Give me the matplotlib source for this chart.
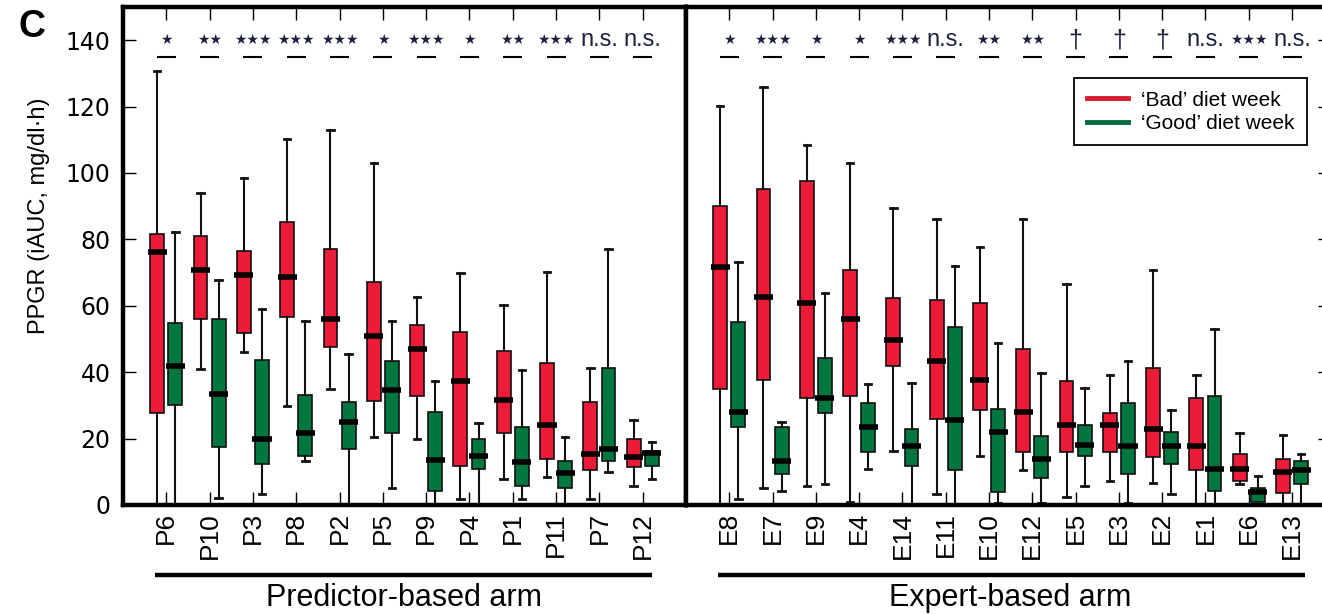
import matplotlib.pyplot as plt
from matplotlib.lines import Line2D
import matplotlib.transforms as mtransforms

# ---- data ----
# each box: (whislo, q1, med, q3, whishi)
p_labels = ['P6', 'P10', 'P3', 'P8', 'P2', 'P5', 'P9', 'P4', 'P1', 'P11', 'P7', 'P12']
p_bad = [
    (0, 27.7, 76.1, 81.6, 130.6),
    (41.0, 56.1, 70.7, 81.1, 93.9),
    (46.0, 51.7, 69.2, 76.6, 98.4),
    (29.7, 56.6, 68.7, 85.3, 110.1),
    (34.8, 47.5, 56.1, 77.1, 113.1),
    (20.5, 31.2, 50.9, 67.3, 103.1),
    (19.9, 32.7, 47.0, 54.1, 62.7),
    (1.7, 11.8, 37.3, 52.1, 69.8),
    (7.8, 21.7, 31.7, 46.3, 60.1),
    (8.3, 13.8, 24.0, 42.8, 70.3),
    (1.7, 10.4, 15.4, 31.1, 41.3),
    (5.7, 11.3, 14.4, 19.8, 25.6),
]
p_good = [
    (0, 30.2, 41.8, 54.7, 82.1),
    (2.2, 17.4, 33.5, 56.1, 67.8),
    (3.2, 12.4, 20.0, 43.8, 59.1),
    (13.4, 14.9, 21.7, 33.2, 55.4),
    (0, 16.9, 24.9, 31.1, 45.5),
    (5.2, 21.7, 34.6, 43.3, 55.3),
    (0, 4.2, 13.6, 28.0, 37.3),
    (0, 10.8, 14.9, 19.8, 24.6),
    (1.7, 5.7, 12.9, 23.5, 40.8),
    (0, 5.2, 9.6, 13.3, 20.5),
    (9.9, 13.4, 16.9, 41.3, 77.1),
    (7.8, 11.8, 15.6, 16.3, 18.9),
]
p_sig = ['*', '**', '***', '***', '***', '*', '***', '*', '**', '***', 'n.s.', 'n.s.']

e_labels = ['E8', 'E7', 'E9', 'E4', 'E14', 'E11', 'E10', 'E12', 'E5', 'E3', 'E2', 'E1', 'E6', 'E13']
e_bad = [
    (0, 34.8, 71.7, 90.2, 120.2),
    (5.2, 37.8, 62.8, 95.2, 125.8),
    (5.7, 32.2, 60.7, 97.7, 108.5),
    (1.0, 32.7, 55.9, 70.8, 103.0),
    (16.3, 41.8, 49.6, 62.3, 89.6),
    (3.2, 26.0, 43.3, 61.7, 86.1),
    (14.9, 28.5, 37.8, 60.7, 77.6),
    (10.4, 16.0, 28.1, 47.0, 86.1),
    (2.5, 16.0, 24.0, 37.3, 66.5),
    (7.3, 16.0, 24.0, 27.6, 39.3),
    (6.7, 14.4, 23.0, 41.3, 70.8),
    (0, 10.4, 17.9, 32.1, 39.3),
    (6.3, 7.3, 10.9, 15.4, 21.6),
    (0, 3.7, 9.8, 13.8, 21.1),
]
e_good = [
    (1.7, 23.5, 27.9, 55.1, 73.3),
    (4.3, 9.3, 13.4, 23.5, 25.0),
    (6.3, 27.7, 32.1, 44.3, 63.8),
    (10.8, 15.9, 23.4, 30.7, 36.3),
    (0, 11.8, 17.9, 23.0, 36.8),
    (0, 10.4, 25.5, 53.6, 72.0),
    (0.5, 3.8, 22.0, 29.0, 48.9),
    (0.5, 8.1, 13.9, 20.9, 39.8),
    (5.7, 14.8, 18.1, 24.1, 35.3),
    (0.5, 9.3, 17.9, 30.7, 43.3),
    (3.2, 12.3, 17.9, 22.0, 28.6),
    (0, 4.2, 10.9, 32.7, 53.1),
    (0, 1.0, 3.8, 5.2, 8.8),
    (0, 6.3, 10.4, 13.4, 15.4),
]
e_sig = ['*', '***', '*', '*', '***', 'n.s.', '**', '**', '\u2020', '\u2020', '\u2020', 'n.s.', '***', 'n.s.']

RED = '#ED1B35'
GREEN = '#00773F'
SIGCOL = '#1c2240'
SANS = ['Liberation Sans', 'DejaVu Sans']


def to_stats(rows):
    return [dict(whislo=r[0], q1=r[1], med=r[2], q3=r[3], whishi=r[4], fliers=[]) for r in rows]


def draw_boxes(ax, rows, pos, color):
    bp = ax.bxp(to_stats(rows), positions=pos, widths=0.32, capwidths=0.15,
                patch_artist=True, showfliers=False, manage_ticks=False,
                boxprops=dict(facecolor=color, edgecolor='#111111', linewidth=1.2),
                whiskerprops=dict(color='#111111', linewidth=1.5),
                capprops=dict(color='#111111', linewidth=2.0),
                medianprops=dict(color='black', linewidth=4.0, solid_capstyle='butt'))
    # medians stick out a little past the box edges
    for m in bp['medians']:
        x0, x1 = m.get_xdata()[0], m.get_xdata()[1]
        m.set_xdata([x0 - 0.06, x1 + 0.06])
        m.set_zorder(3)


def setup_panel(ax, labels, bad, good, sig, xmax):
    n = len(labels)
    xs = list(range(1, n + 1))
    draw_boxes(ax, bad, [x - 0.21 for x in xs], RED)
    draw_boxes(ax, good, [x + 0.21 for x in xs], GREEN)
    ax.set_xlim(0, xmax)
    ax.set_ylim(0, 150)
    ax.set_xticks(xs)
    ax.set_xticklabels(labels, rotation=90, family=SANS, fontsize=19)
    for sp in ax.spines.values():
        sp.set_linewidth(3.2)
    ax.tick_params(axis='x', direction='in', length=9.5, width=1.0, top=True, bottom=True, pad=5)
    for x, s in zip(xs, sig):
        if '*' in s:
            ax.text(x, 140, '\u2605' * len(s), ha='center', va='center', fontsize=10,
                    color=SIGCOL, family=['DejaVu Sans'])
        elif s == 'n.s.':
            ax.text(x, 140, s, ha='center', va='center', fontsize=17, color=SIGCOL, family=SANS)
        else:
            ax.text(x, 140, s, ha='center', va='center', fontsize=18, color=SIGCOL, family=SANS)
        ax.plot([x - 0.22, x + 0.22], [135, 135], color='black', lw=1.5, solid_capstyle='butt')


fig = plt.figure(figsize=(13.22, 6.14), dpi=100)
ax1 = fig.add_axes([123 / 1322, 1 - 505 / 614, 563 / 1322, 498 / 614])
ax2 = fig.add_axes([686 / 1322, 1 - 505 / 614, 645 / 1322, 498 / 614])

setup_panel(ax1, p_labels, p_bad, p_good, p_sig, 13)
setup_panel(ax2, e_labels, e_bad, e_good, e_sig, 14.9)

ax1.set_yticks(range(0, 141, 20))
ax1.tick_params(axis='y', direction='in', length=9.5, width=1.0, left=True, right=False,
                labelsize=17, pad=9)
ax2.set_yticks(range(0, 141, 20))
ax2.tick_params(axis='y', direction='in', length=9.5, width=1.0, left=False, right=True,
                labelleft=False, labelright=False)

# arm brackets under tick labels
for ax, x0, x1, xm, name in [(ax1, 0.74, 12.22, 6.5, 'Predictor-based arm'),
                             (ax2, 0.74, 14.3, 7.5, 'Expert-based arm')]:
    tr = mtransforms.blended_transform_factory(ax.transData, ax.transAxes)
    ax.plot([x0, x1], [-0.1406, -0.1406], transform=tr, color='black', lw=3.2,
            clip_on=False, solid_capstyle='butt')
    ax.text(xm, -0.187, name, transform=tr, ha='center', va='center', fontsize=22, family=SANS)

handles = [Line2D([], [], color='#D81E2E', lw=3.5), Line2D([], [], color='#006B3C', lw=3.5)]
leg = ax2.legend(handles, ["\u2018Bad\u2019 diet week", "\u2018Good\u2019 diet week"],
                 loc='upper right', bbox_to_anchor=(0.963, 0.857), borderaxespad=0,
                 fancybox=False, edgecolor='black', framealpha=1, handlelength=1.95,
                 handletextpad=0.65, labelspacing=0.2, borderpad=0.6,
                 prop={'family': SANS, 'size': 15})
leg.get_frame().set_linewidth(1.3)

fig.text(39 / 1322, 1 - 216 / 614, 'PPGR (iAUC, mg/dl\u00b7h)', rotation=90, ha='center',
         va='center', fontsize=17, family=SANS)
fig.text(32 / 1322, 1 - 27 / 614, 'C', ha='center', va='center', fontsize=27,
         fontweight='bold', family=SANS)

fig.savefig('out.png', dpi=100)
